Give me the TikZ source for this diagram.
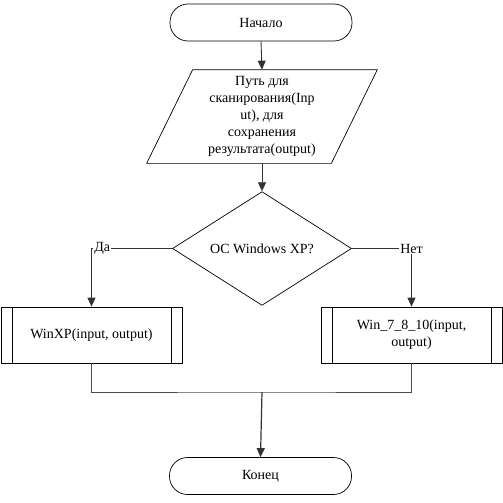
\documentclass[tikz,border=0pt]{standalone}
\usepackage{fontspec}
\setmainfont{Liberation Serif}
\usetikzlibrary{shapes.geometric,arrows.meta}
\tikzset{
  term/.style={draw, rounded corners=18pt, minimum width=182pt, minimum height=37pt},
  inout/.style={minimum width=184pt, minimum height=93pt, align=center, inner sep=0pt},
  decide/.style={draw, diamond, minimum width=179pt, minimum height=107pt, inner sep=0pt},
  subproc/.style={draw, minimum width=181pt, minimum height=56pt, align=center,
    path picture={
      \draw ([xshift=11pt]path picture bounding box.north west) -- ([xshift=11pt]path picture bounding box.south west);
      \draw ([xshift=-11pt]path picture bounding box.north east) -- ([xshift=-11pt]path picture bounding box.south east);
    }},
  flow/.style={draw=black!80, line width=0.9pt, -{Triangle[length=9pt,width=8pt]}},
  lab/.style={fill=white, inner sep=1pt}
}
\begin{document}
\begin{tikzpicture}[x=1pt,y=-1pt,font=\fontsize{14}{17}\selectfont,line width=0.7pt]
\useasboundingbox[fill=white] (0,0) rectangle (503,503);

\node[term] (start) at (261,22.5) {Начало};
\node[inout] (path) at (262,116.5) {Путь для\\сканирования(Inp\\ut), для\\сохранения\\результата(output)};
% parallelogram round the text
\draw ([xshift=-23pt]path.south west) -- ([xshift=23pt]path.north west)
   -- ([xshift=23pt]path.north east) -- ([xshift=-23pt]path.south east) -- cycle;
\node[decide] (os) at (262,248.5) {ОС Windows XP?};
\node[subproc] (xp) at (91.5,335) {WinXP(input, output)};
\node[subproc] (w10) at (411.5,335) {Win\_7\_8\_10(input,\\output)};
\node[term] (stop) at (260.5,476) {Конец};

\draw[flow] (start.south) -- (path.north);
\draw[flow] (path.south) -- (os.north);
\draw[flow] (os.west) -| (xp.north);
\draw[flow] (os.east) -| (w10.north);

\coordinate (merge) at (262,392);
\draw[black!70] (xp.south) |- (merge) -| (w10.south);
\draw[flow, line width=1.2pt] (merge) -- (stop.north);

\node[lab, anchor=west] (yes) at (93,248.5) {Да};
\node[lab] (no) at (411.5,248.5) {Нет};
\end{tikzpicture}
\end{document}
